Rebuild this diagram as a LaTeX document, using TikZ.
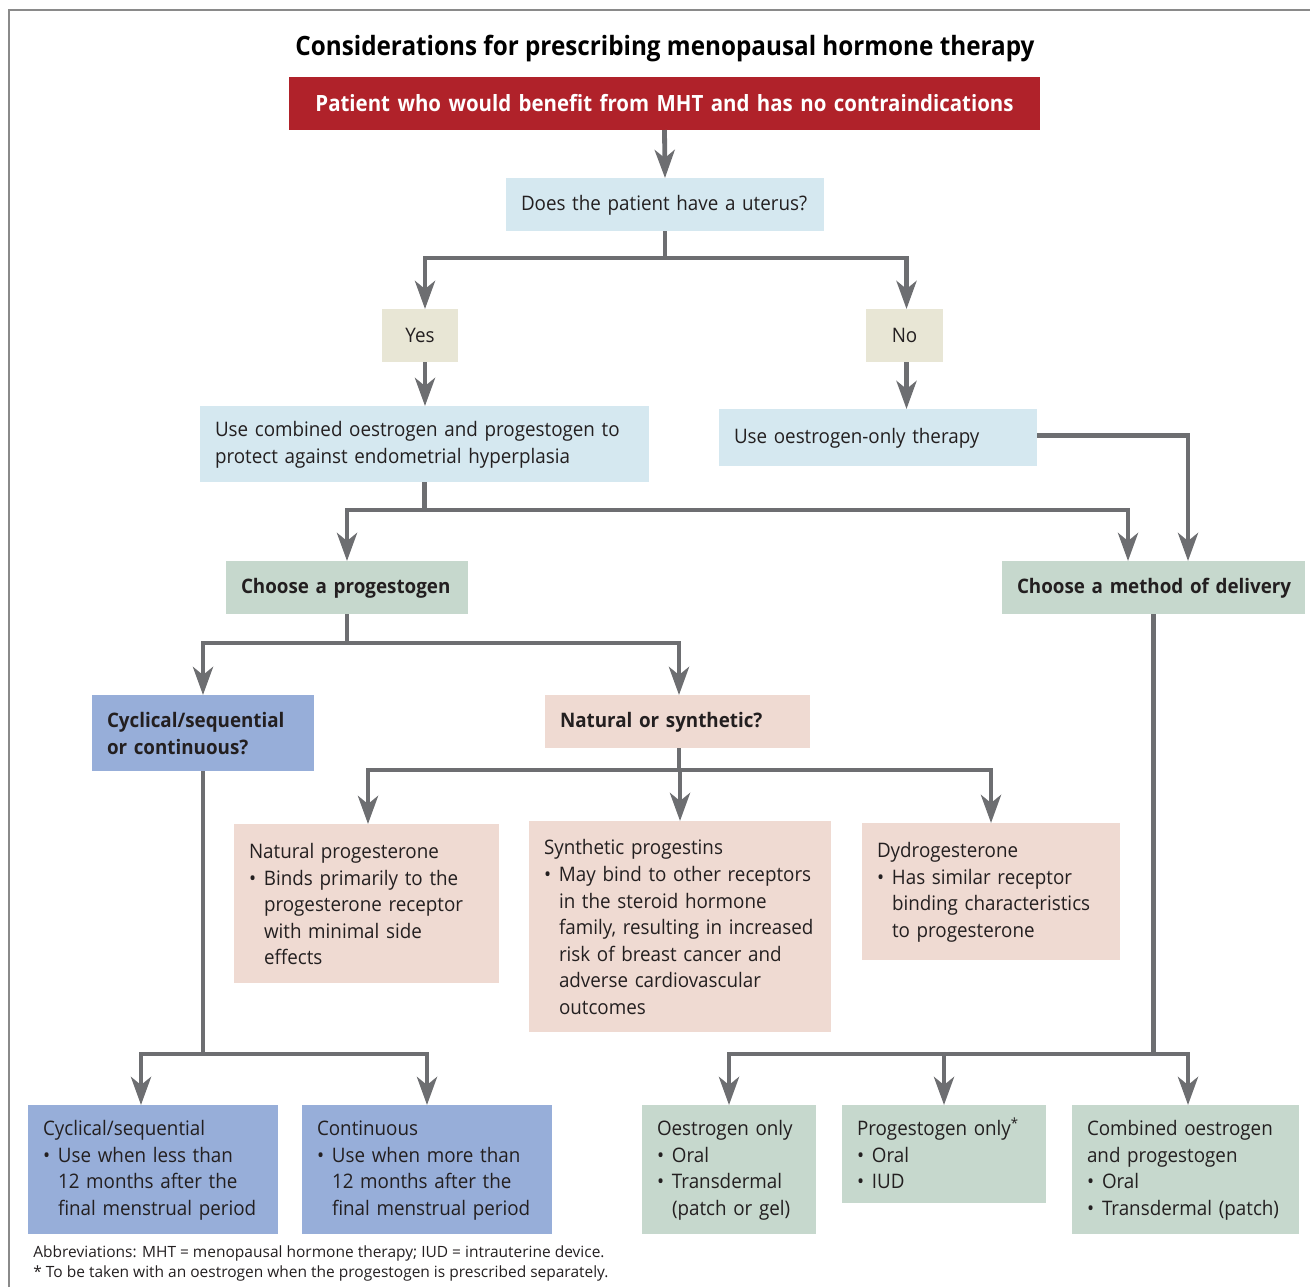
\documentclass[tikz,border=0pt]{standalone}
\usepackage{fontspec}
\setmainfont{Open Sans}[FakeStretch=0.94]
\newfontfamily\titlefont{Open Sans}[FakeStretch=0.912]
\newfontfamily\notefont{Open Sans}
\usetikzlibrary{arrows.meta}
\definecolor{arrowgray}{HTML}{6D6E71}
\definecolor{redbox}{HTML}{B0222A}
\definecolor{lightblue}{HTML}{D5E8F0}
\definecolor{beigebox}{HTML}{E8E6D5}
\definecolor{sagebox}{HTML}{C6D8CD}
\definecolor{periwbox}{HTML}{97AED9}
\definecolor{pinkbox}{HTML}{EFDAD2}
\definecolor{txt}{HTML}{231F20}
\definecolor{framegray}{HTML}{8A8A8A}
\newcommand{\bxln}[1]{\par\noindent\mbox{#1}}
\newcommand{\bxitm}[1]{\par\noindent\mbox{\makebox[7.5pt][l]{•}#1}}
\newcommand{\bxcnt}[1]{\par\noindent\mbox{\hspace*{7.5pt}#1}}
\newcommand{\bxend}{\par\kern5pt}
\newcommand{\mybox}[8]{%
  \pgfmathsetmacro{\mybw}{(#4-#2)*0.5}%
  \pgfmathsetmacro{\mybh}{(#5-#3)*0.5}%
  \pgfmathsetmacro{\mytw}{(#4-#2)*0.5-15}%
  \node[basebox, fill=#6, minimum width=\mybw pt, minimum height=\mybh pt, text width=\mytw pt, #7] (#1) at (#2,#3) {#8};%
}
\tikzset{
  basebox/.style={draw=none, inner xsep=7.5pt, inner ysep=0pt, outer sep=0pt,
    font=\fontsize{10}{13.3}\selectfont, text=txt, anchor=north west, align=left},
  boldtxt/.style={font=\fontsize{10}{13.5}\selectfont\bfseries},
  conn/.style={draw=arrowgray, line width=2.4pt},
  arr/.style={conn, -{Stealth[length=14pt, width=10pt, inset=4pt]}},
  notetxt/.style={anchor=base west, font=\notefont\fontsize{7.75}{10}\selectfont, text=txt, inner sep=0pt},
}
\begin{document}
\begin{tikzpicture}[x=0.5pt, y=-0.5pt]
\useasboundingbox (0,0) rectangle (1310,1287);
\draw[framegray, line width=1pt] (9,1287) -- (9,9.5) -- (1310,9.5);

\node[font=\titlefont\bfseries\fontsize{13.3}{16}\selectfont, text=black, anchor=base] (title) at (665,55) {Considerations for prescribing menopausal hormone therapy};

\mybox{red}{289}{77}{1040}{130}{redbox}{align=center, text=white, font=\titlefont\bfseries\fontsize{11.2}{14}\selectfont}{\mbox{Patient who would benefit from MHT and has no contraindications}}
\mybox{q}{506}{178}{824}{231}{lightblue}{}{\bxln{Does the patient have a uterus?}\bxend}
\mybox{yes}{382}{309}{458}{362}{beigebox}{align=center}{Yes}
\mybox{no}{866}{309}{943}{362}{beigebox}{align=center}{No}
\mybox{comb}{200}{406}{649}{482}{lightblue}{}{\bxln{Use combined oestrogen and progestogen to}\bxln{protect against endometrial hyperplasia}\bxend}
\mybox{oonly}{719}{409}{1037}{466}{lightblue}{}{\bxln{Use oestrogen-only therapy}\bxend}
\mybox{prog}{226}{561}{468}{614}{sagebox}{boldtxt}{\bxln{Choose a progestogen}\bxend}
\mybox{deliv}{1002}{561}{1305}{614}{sagebox}{boldtxt}{\bxln{Choose a method of delivery}\bxend}
\mybox{cyc}{92}{695}{314}{771}{periwbox}{boldtxt}{\bxln{Cyclical/sequential}\bxln{or continuous?}\bxend}
\mybox{nat}{545}{695}{810}{748}{pinkbox}{boldtxt}{\bxln{Natural or synthetic?}\bxend}
\mybox{natp}{234}{824}{499}{983}{pinkbox}{}{\bxln{Natural progesterone}\bxitm{Binds primarily to the}\bxcnt{progesterone receptor}\bxcnt{with minimal side}\bxcnt{effects}\bxend}
\mybox{synth}{529}{821}{831}{1032}{pinkbox}{}{\bxln{Synthetic progestins}\bxitm{May bind to other receptors}\bxcnt{in the steroid hormone}\bxcnt{family, resulting in increased}\bxcnt{risk of breast cancer and}\bxcnt{adverse cardiovascular}\bxcnt{outcomes}\bxend}
\mybox{dydro}{862}{823}{1120}{960}{pinkbox}{}{\bxln{Dydrogesterone}\bxitm{Has similar receptor}\bxcnt{binding characteristics}\bxcnt{to progesterone}\bxend}
\mybox{cs}{28}{1105}{278}{1234}{periwbox}{}{\bxln{Cyclical/sequential}\bxitm{Use when less than}\bxcnt{12 months after the}\bxcnt{final menstrual period}\bxend}
\mybox{cont}{302}{1105}{552}{1234}{periwbox}{}{\bxln{Continuous}\bxitm{Use when more than}\bxcnt{12 months after the}\bxcnt{final menstrual period}\bxend}
\mybox{oe}{642}{1105}{816}{1234}{sagebox}{}{\bxln{Oestrogen only}\bxitm{Oral}\bxitm{Transdermal}\bxcnt{(patch or gel)}\bxend}
\mybox{po}{842}{1105}{1046}{1203}{sagebox}{}{\bxln{Progestogen only\textsuperscript{*}}\bxitm{Oral}\bxitm{IUD}\bxend}
\mybox{co}{1072}{1105}{1299}{1234}{sagebox}{}{\bxln{Combined oestrogen}\bxln{and progestogen}\bxitm{Oral}\bxitm{Transdermal (patch)}\bxend}

\node[notetxt] (abbr) at (33,1257) {Abbreviations: MHT = menopausal hormone therapy; IUD = intrauterine device.};
\node[notetxt] (star) at (33,1277) {* To be taken with an oestrogen when the progestogen is prescribed separately.};

% connectors
\draw[arr] (red.south) -- (q.north);
\coordinate (j1) at (q.south |- 0,258);
\draw[conn] (q.south) -- (j1);
\draw[arr] (j1) -| ([xshift=2.5pt]yes.north);
\draw[arr] (j1) -| ([xshift=1pt]no.north);
\draw[arr] ([xshift=2.5pt]yes.south) -- ([xshift=2.5pt]yes.south |- comb.north);
\draw[arr] ([xshift=1pt]no.south) -- ([xshift=1pt]no.south |- oonly.north);

\coordinate (j2) at (comb.south |- 0,510);
\draw[conn] (comb.south) -- (j2);
\draw[arr] (j2) -| (prog.north);
\draw[arr] (j2) -| ([xshift=-12.75pt]deliv.north);
\draw[arr] ([yshift=1pt]oonly.east) -| ([xshift=17.25pt]deliv.north);

\coordinate (j3) at (prog.south |- 0,643);
\draw[conn] (prog.south) -- (j3);
\draw[arr] (j3) -| (cyc.north);
\draw[arr] (j3) -| ([xshift=0.75pt]nat.north);

\coordinate (j4) at ([xshift=0.75pt]nat.south |- 0,770);
\draw[conn] ([xshift=0.75pt]nat.south) -- (j4);
\draw[arr] (j4) -| ([xshift=0.75pt]natp.north);
\draw[arr] (j4) -| (synth.north);
\draw[arr] (j4) -| (dydro.north);

\coordinate (j5) at (cyc.south |- 0,1054);
\draw[conn] (cyc.south) -- (j5);
\draw[arr] (j5) -| ([xshift=-6pt]cs.north);
\draw[arr] (j5) -| (cont.north);

\coordinate (j6) at (deliv.south |- 0,1054);
\draw[conn] (deliv.south) -- (j6);
\draw[arr] (j6) -| (oe.north);
\draw[arr] (j6) -| (po.north);
\draw[arr] (j6) -| ([xshift=1.25pt]co.north);
\end{tikzpicture}
\end{document}
